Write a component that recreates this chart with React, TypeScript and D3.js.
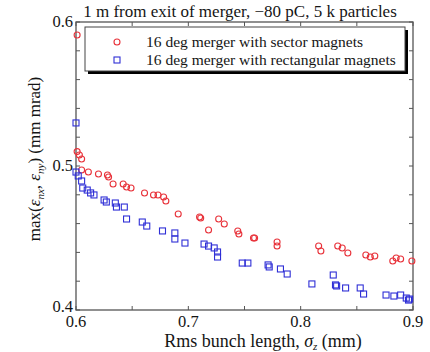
import React, { useEffect, useRef } from 'react';
import * as d3 from 'd3';

// Red circles: 16 deg merger with sector magnets
const sectorX = [0.601, 0.601, 0.603, 0.605, 0.605, 0.611, 0.62, 0.628, 0.629, 0.633, 0.642, 0.645, 0.649, 0.661, 0.669, 0.673, 0.678, 0.68, 0.691, 0.71, 0.711, 0.718, 0.727, 0.732, 0.744, 0.745, 0.758, 0.759, 0.779, 0.779, 0.816, 0.818, 0.833, 0.837, 0.842, 0.858, 0.862, 0.866, 0.882, 0.885, 0.889, 0.899];
const sectorY = [0.591, 0.51, 0.5076, 0.5049, 0.4972, 0.4958, 0.4944, 0.4938, 0.4924, 0.4875, 0.4875, 0.4854, 0.4847, 0.4813, 0.4799, 0.4799, 0.4785, 0.4757, 0.4667, 0.4646, 0.4639, 0.4556, 0.4632, 0.4597, 0.4549, 0.4528, 0.45, 0.45, 0.4472, 0.4444, 0.4444, 0.441, 0.4444, 0.4431, 0.4396, 0.4382, 0.4368, 0.4375, 0.434, 0.4361, 0.4354, 0.434];

// Blue squares: 16 deg merger with rectangular magnets
const rectX = [0.6, 0.6, 0.602, 0.605, 0.606, 0.61, 0.613, 0.616, 0.625, 0.627, 0.635, 0.636, 0.643, 0.645, 0.659, 0.663, 0.677, 0.688, 0.688, 0.697, 0.714, 0.718, 0.723, 0.726, 0.726, 0.748, 0.753, 0.771, 0.772, 0.782, 0.788, 0.81, 0.829, 0.831, 0.832, 0.84, 0.853, 0.856, 0.876, 0.883, 0.889, 0.894, 0.897, 0.896];
const rectY = [0.5299, 0.4958, 0.4931, 0.4896, 0.4847, 0.4833, 0.4813, 0.4799, 0.4764, 0.475, 0.4743, 0.4715, 0.4715, 0.4632, 0.4611, 0.4583, 0.4549, 0.4535, 0.4493, 0.4465, 0.4458, 0.4444, 0.4431, 0.4403, 0.4368, 0.4326, 0.4326, 0.4313, 0.4299, 0.4285, 0.425, 0.4181, 0.4243, 0.4174, 0.4167, 0.4153, 0.4153, 0.4111, 0.4104, 0.4097, 0.4104, 0.4083, 0.4076, 0.4069];

const xTickLabels = [0.6, 0.7, 0.8, 0.9];
const yTickLabels = [0.4, 0.5, 0.6];
const seriesNames = ['16 deg merger with sector magnets', '16 deg merger with rectangular magnets'];

const RED = '#e8323a';
const BLUE = '#2f2fd6';
const INK = '#151515';
const FONT = '"Liberation Serif", "Times New Roman", serif';

export default function App() {
  const svgRef = useRef<SVGSVGElement>(null);

  useEffect(() => {
    if (!svgRef.current) return;
    const root = d3.select(svgRef.current);
    root.selectAll('*').remove();

    const width = 430;
    const height = 352;
    const margin = { top: 22, right: 17, bottom: 42, left: 76 };
    const w = width - margin.left - margin.right;
    const h = height - margin.top - margin.bottom;

    const svg = root.append('g').attr('transform', `translate(${margin.left},${margin.top})`);

    const x = d3.scaleLinear().domain([0.6, 0.9]).range([0, w]);
    const y = d3.scaleLinear().domain([0.4, 0.6]).range([h, 0]);

    const axisColor = '#555';
    const xMinor = d3.range(0.6, 0.9001, 0.05);
    const yMinor = d3.range(0.4, 0.6001, 0.02);

    // box frame
    svg.append('rect')
      .attr('width', w).attr('height', h)
      .attr('fill', 'none').attr('stroke', axisColor).attr('stroke-width', 1.3);

    // inward ticks on all sides
    const tl = 4;
    xMinor.forEach(v => {
      svg.append('line').attr('x1', x(v)).attr('x2', x(v)).attr('y1', h).attr('y2', h - tl).attr('stroke', axisColor);
      svg.append('line').attr('x1', x(v)).attr('x2', x(v)).attr('y1', 0).attr('y2', tl).attr('stroke', axisColor);
    });
    yMinor.forEach(v => {
      svg.append('line').attr('x1', 0).attr('x2', tl).attr('y1', y(v)).attr('y2', y(v)).attr('stroke', axisColor);
      svg.append('line').attr('x1', w).attr('x2', w - tl).attr('y1', y(v)).attr('y2', y(v)).attr('stroke', axisColor);
    });

    // tick labels
    svg.selectAll('.xl').data(xTickLabels).enter().append('text')
      .attr('x', d => x(d)).attr('y', h + 17)
      .attr('text-anchor', 'middle')
      .attr('font-family', FONT).attr('font-size', 16.5).attr('fill', INK)
      .text(d => d.toFixed(1));
    svg.selectAll('.yl').data(yTickLabels).enter().append('text')
      .attr('x', -3).attr('y', d => y(d) + (d === 0.4 ? 2 : 5))
      .attr('text-anchor', 'end')
      .attr('font-family', FONT).attr('font-size', 16.5).attr('fill', INK)
      .text(d => d.toFixed(1));

    // data
    const red = sectorX.map((v, i) => ({ x: v, y: sectorY[i] }));
    const blue = rectX.map((v, i) => ({ x: v, y: rectY[i] }));

    svg.selectAll('.red').data(red).enter().append('circle')
      .attr('cx', d => x(d.x)).attr('cy', d => y(d.y)).attr('r', 3)
      .attr('fill', 'none').attr('stroke', RED).attr('stroke-width', 1.1);

    svg.selectAll('.blue').data(blue).enter().append('rect')
      .attr('x', d => x(d.x) - 3).attr('y', d => y(d.y) - 3)
      .attr('width', 6).attr('height', 6)
      .attr('fill', 'none').attr('stroke', BLUE).attr('stroke-width', 1.1);

    // legend
    const lg = svg.append('g').attr('transform', 'translate(9,5)');
    const lw = 320;
    const lh = 44;
    lg.append('rect').attr('x', 3).attr('y', 3).attr('width', lw).attr('height', lh).attr('fill', '#000');
    lg.append('rect').attr('width', lw).attr('height', lh).attr('fill', '#fff').attr('stroke', '#444').attr('stroke-width', 1);
    seriesNames.forEach((name, i) => {
      const cy = 15 + i * 18;
      if (i === 0) {
        lg.append('circle').attr('cx', 32).attr('cy', cy).attr('r', 3).attr('fill', 'none').attr('stroke', RED).attr('stroke-width', 1.1);
      } else {
        lg.append('rect').attr('x', 29).attr('y', cy - 3).attr('width', 6).attr('height', 6).attr('fill', 'none').attr('stroke', BLUE).attr('stroke-width', 1.1);
      }
      lg.append('text').attr('x', 61).attr('y', cy + 5)
        .attr('font-family', FONT).attr('font-size', 15.5).attr('fill', INK)
        .text(name);
    });

    // title
    root.append('text')
      .attr('x', 240).attr('y', 17)
      .attr('text-anchor', 'middle')
      .attr('font-family', FONT).attr('font-size', 17).attr('fill', INK)
      .text('1 m from exit of merger, \u221280 pC, 5 k particles');

    // x label
    const xl = root.append('text')
      .attr('x', 263).attr('y', 347)
      .attr('text-anchor', 'middle')
      .attr('font-family', FONT).attr('font-size', 18).attr('fill', INK);
    xl.append('tspan').text('Rms bunch length, ');
    xl.append('tspan').attr('font-style', 'italic').text('\u03c3');
    xl.append('tspan').attr('font-style', 'italic').attr('font-size', 11).attr('dy', 3).text('z');
    xl.append('tspan').attr('dy', -3).text(' (mm)');

    // y label
    const yl = root.append('text')
      .attr('transform', `translate(40,159) rotate(-90)`)
      .attr('text-anchor', 'middle')
      .attr('font-family', FONT).attr('font-size', 17).attr('fill', INK);
    yl.append('tspan').text('max(');
    yl.append('tspan').attr('font-style', 'italic').text('\u03b5');
    yl.append('tspan').attr('font-style', 'italic').attr('font-size', 11).attr('dy', 4).text('nx');
    yl.append('tspan').attr('dy', -4).text(', ');
    yl.append('tspan').attr('font-style', 'italic').text('\u03b5');
    yl.append('tspan').attr('font-style', 'italic').attr('font-size', 11).attr('dy', 4).text('ny');
    yl.append('tspan').attr('dy', -4).text(') (mm mrad)');
  }, []);

  return (
    <svg ref={svgRef} width={430} height={352}
      style={{ position: 'absolute', left: 0, top: 0, background: '#fff' }} />
  );
}
